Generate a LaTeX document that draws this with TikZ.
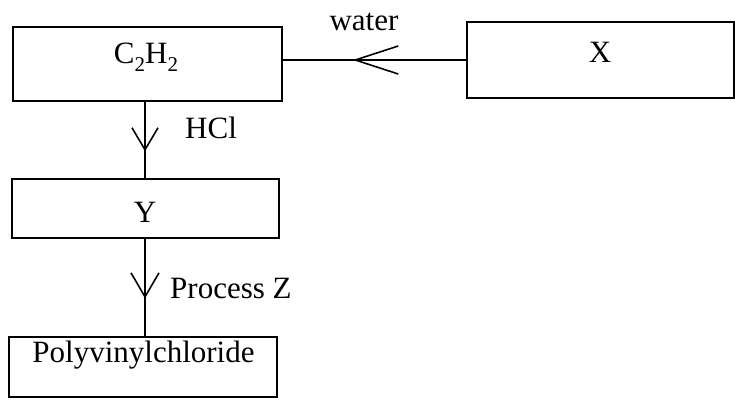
\documentclass[tikz,border=0pt]{standalone}
\usepackage{fontspec}
\setmainfont{Liberation Serif}
\usetikzlibrary{decorations.markings}
\tikzset{
  box/.style={draw, line width=1.6pt, inner sep=0pt},
  txt/.style={font=\fontsize{31}{37}\selectfont, inner sep=0pt},
  conn/.style={line width=1.6pt},
  chevron/.style n args={3}{postaction={decorate, decoration={markings,
    mark=at position #1 with {\draw[line width=1.6pt] (-#2,#3) -- (0,0) -- (-#2,-#3);}}}}
}
\begin{document}
\begin{tikzpicture}[x=1pt,y=-1pt]
\useasboundingbox (0,0) rectangle (735,400);
% boxes
\node[box, minimum width=269pt, minimum height=74pt] (c) at (147.5,64) {};
\node[box, minimum width=267pt, minimum height=76pt] (x) at (600.5,60) {};
\node[box, minimum width=267pt, minimum height=59pt] (y) at (145.5,208.5) {};
\node[box, minimum width=268pt, minimum height=60pt] (p) at (143,367) {};
\coordinate (axis) at (145,0);
% texts
\node[txt, anchor=base] (ct) at (146,63) {C\raisebox{-0.28em}{\fontsize{21}{21}\selectfont 2}H\raisebox{-0.28em}{\fontsize{21}{21}\selectfont 2}};
\node[txt, anchor=base] (xt) at (600,62) {X};
\node[txt, anchor=base] (yt) at (145,222) {Y};
\node[txt, anchor=base] (pt) at (143.5,362) {Polyvinylchloride};
\node[txt, anchor=base] (water) at (364,30) {water};
\node[txt, anchor=base west] (hcl) at (185,138) {HCl};
\node[txt, anchor=base west] (pz) at (170,298) {Process Z};
% connectors
\draw[conn, chevron={0.605}{43}{14}] (x.west) -- (c.east |- x.west);
\draw[conn, chevron={0.628}{22}{13}] (c.south -| axis) -- (y.north -| axis);
\draw[conn, chevron={0.596}{24}{14}] (y.south -| axis) -- (p.north -| axis);
\end{tikzpicture}
\end{document}
